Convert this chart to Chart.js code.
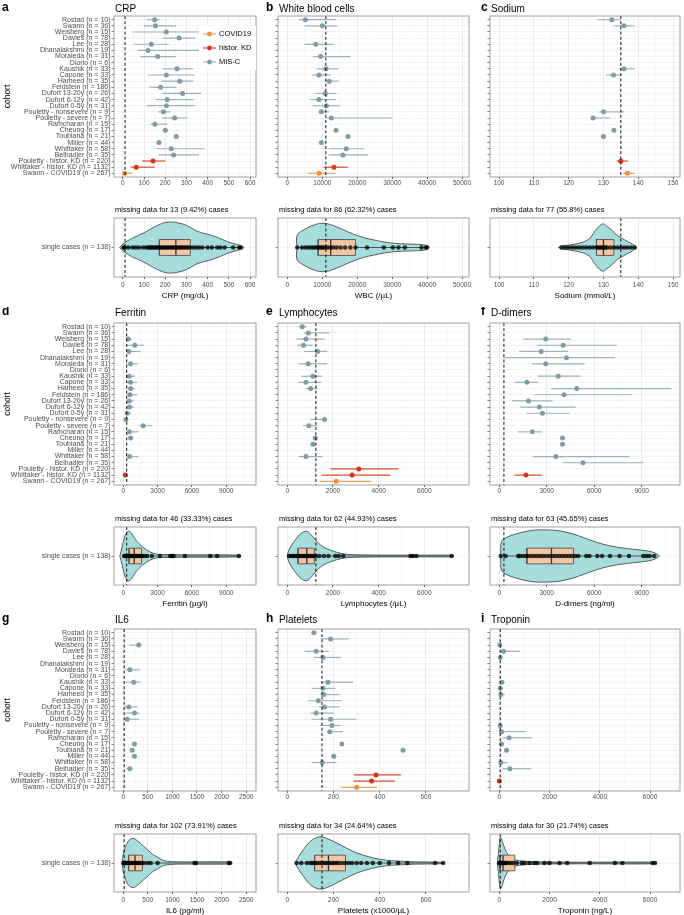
<!DOCTYPE html>
<html>
<head>
<meta charset="utf-8">
<script src="https://cdn.jsdelivr.net/npm/chart.js@4.4.0/dist/chart.umd.min.js"></script>
<style>
    body { margin: 0; background: #fff; width: 684px; height: 915px; position: relative; overflow: hidden; }
    canvas { position: absolute; }
</style>
</head>
<body>
<script>
// Cohorts, top to bottom
const cohorts = [
    'Rostad (n = 10)', 'Swann (n = 36)', 'Weisberg (n = 15)', 'Davies (n = 78)', 'Lee (n = 28)',
    'Dhanalakshmi (n = 19)', 'Moraleda (n = 31)', 'Diorio (n = 6)', 'Kaushik (n = 33)', 'Capone (n = 33)',
    'Hameed (n = 35)', 'Feldstein (n = 186)', 'Dufort 13-20y (n = 26)', 'Dufort 6-12y (n = 42)', 'Dufort 0-5y (n = 31)',
    'Pouletty - nonsevere (n = 9)', 'Pouletty - severe (n = 7)', 'Ramcharan (n = 15)', 'Cheung (n = 17)', 'Toubiana (n = 21)',
    'Miller (n = 44)', 'Whittaker (n = 58)', 'Belhadjer (n = 35)', 'Pouletty - histor. KD (n = 220)',
    'Whittaker - histor. KD (n = 1132)', 'Swann - COVID19 (n = 267)'
];
const groupNames = ['COVID19', 'histor. KD', 'MIS-C'];
const singleCasesLabel = 'single cases (n = 138)';

// CRP
const crpMid = [150, 153, 205, 265, 134, 118, 164, null, 255, 205, 268, 178, 282, 209, 205, 191, 244, 151, 200, 252, 170, 228, 239, 142, 63, 8];
const crpLo = [110, 98, 47, 189, 52, 71, 83, null, 186, 120, 183, 126, 186, 157, 110, 165, 184, 129, null, null, null, 157, 170, 91, 36, 0];
const crpHi = [176, 252, 362, 343, 217, 359, 249, null, 331, 339, 334, 252, 370, 335, 339, 224, 304, 209, null, null, null, 386, 359, 200, 150, 44];
const crpCases = [3, 8, 25, 45, 60, 75, 95, 110, 120, 128, 135, 142, 150, 158, 165, 172, 180, 188, 195, 205, 212, 220, 228, 236, 245, 252, 260, 268, 276, 285, 295, 305, 315, 330, 345, 360, 375, 400, 420, 445, 460, 480, 520, 548, 556];
const crpViolinX = [-15, 0, 40, 100, 150, 200, 250, 300, 350, 400, 450, 500, 540, 570];
const crpViolinW = [0, 0.12, 0.3, 0.5, 0.7, 0.85, 0.85, 0.75, 0.55, 0.45, 0.33, 0.18, 0.1, 0];
const crpBox = [172, 250, 318];

// White blood cells
const wbcMid = [5140, 10000, null, null, 8100, null, 9520, null, 11050, 9050, 12000, null, 10860, 9050, 11140, 9710, 12570, null, 13900, 17330, 9710, 16860, 15900, null, 13330, 9050];
const wbcLo = [3240, 4950, null, null, 4950, null, 7240, null, 8380, 7050, 10670, null, 8000, 6480, 7240, 9050, 11140, null, null, null, null, 11810, 11810, null, 10380, 5900];
const wbcHi = [14000, 14290, null, null, 13140, null, 18000, null, 14570, 12380, 14570, null, 14100, 13810, 14950, 12000, 30000, null, null, null, null, 21900, 23050, null, 17330, 13810];
const wbcCases = [2800, 4200, 5200, 6000, 6800, 7500, 8200, 8800, 9300, 9800, 10300, 10800, 11500, 12300, 13000, 14000, 15200, 16500, 18000, 19500, 22800, 27600, 30200, 31800, 33600, 38400, 39700, 40000];
const wbcViolinX = [2700, 2800, 5000, 8000, 10500, 13000, 16000, 19000, 22000, 25000, 28000, 31000, 34000, 37000, 39500, 40300];
const wbcViolinW = [0, 0.42, 0.62, 0.78, 0.82, 0.75, 0.6, 0.45, 0.33, 0.25, 0.18, 0.14, 0.12, 0.11, 0.08, 0];
const wbcBox = [8800, 12400, 19500];

// Sodium
const sodiumMid = [132.4, 135.9, null, null, null, null, null, null, 135.9, 132.9, null, null, null, null, null, 130, 127, null, 133, 130, null, null, null, 135, null, 136.9];
const sodiumLo = [128.3, 132.9, null, null, null, null, null, null, 134.5, 130.8, null, null, null, null, null, 128.8, 127, null, null, null, null, null, null, 133.8, null, 135.7];
const sodiumHi = [135, 139, null, null, null, null, null, null, 139, 135.2, null, null, null, null, null, 135.9, 131.9, null, null, null, null, null, null, 137, null, 139];
const sodiumCases = [118, 119, 120, 121, 122, 123, 124, 125, 126, 127, 128, 128.5, 129, 129.5, 130, 130.5, 131, 132, 133, 134, 135, 136, 137, 138, 139];
const sodiumViolinX = [117, 118, 120, 122, 124, 126, 127.5, 129, 130, 131, 132.5, 134, 135.5, 137, 138.5, 139.3];
const sodiumViolinW = [0, 0.05, 0.08, 0.12, 0.18, 0.3, 0.55, 0.75, 0.8, 0.72, 0.58, 0.4, 0.3, 0.2, 0.1, 0];
const sodiumBox = [128, 130, 133];

// Ferritin
const ferritinMid = [null, null, 435, 1015, 490, null, 640, null, 520, 640, 640, 580, 520, 550, 350, 230, 1740, 520, 640, null, null, 550, null, null, 175, null];
const ferritinLo = [null, null, 230, 290, 290, null, 290, null, 290, 290, 350, 290, 290, 320, 145, 90, 1390, 290, null, null, null, 290, null, null, 60, null];
const ferritinHi = [null, null, 725, 1800, 1500, null, 1250, null, 1015, 1220, 1015, 1220, 930, 930, 670, 380, 2550, 1300, null, null, null, 1300, null, null, 350, null];
const ferritinCases = [80, 150, 220, 300, 380, 450, 520, 600, 680, 760, 850, 950, 1050, 1150, 1250, 1400, 1550, 1700, 1900, 2100, 2500, 3200, 4100, 4250, 4400, 5400, 7600, 8200, 10100];
const ferritinViolinX = [-300, -100, 150, 400, 700, 1000, 1400, 1800, 2200, 2600, 3000, 4000, 6000, 8000, 10000, 10300];
const ferritinViolinW = [0, 0.3, 0.7, 0.85, 0.8, 0.6, 0.42, 0.28, 0.17, 0.1, 0.06, 0.05, 0.04, 0.04, 0.03, 0];
const ferritinBox = [500, 950, 1600];

// Lymphocytes
const lymphMid = [655, 917, 815, 713, 1325, null, 917, null, 1120, 815, 1019, null, null, null, null, 1630, 946, null, 1223, 1120, null, 815, null, 3130, 2838, 2140];
const lymphLo = [465, 728, 393, 437, 728, null, 495, null, 611, 495, 830, null, null, null, null, 1019, 684, null, null, null, null, 495, null, 1892, 1514, 1412];
const lymphHi = [830, 1850, 1630, 1120, 1747, null, 1747, null, 1528, 1455, 1310, null, null, null, null, 1747, 1296, null, null, null, null, 1528, null, 4862, 4498, 3668];
const lymphCases = [80, 150, 250, 320, 400, 480, 550, 620, 700, 760, 820, 880, 940, 1000, 1080, 1150, 1250, 1400, 1600, 1800, 2100, 2250, 2450, 5400, 5500, 5650, 7200];
const lymphViolinX = [0, 60, 300, 600, 850, 1100, 1350, 1600, 1900, 2200, 2600, 3200, 4500, 6000, 7200, 7300];
const lymphViolinW = [0, 0.2, 0.5, 0.78, 0.85, 0.68, 0.45, 0.3, 0.2, 0.12, 0.06, 0.04, 0.03, 0.03, 0.03, 0];
const lymphBox = [470, 850, 1180];

// D-dimers
const ddimerMid = [null, null, 2940, 4040, 2650, 4250, 2940, null, 3730, 1750, 4900, 4100, 1850, 2540, 2730, null, null, 2100, 4000, 4000, null, 3580, 5290, null, 1690, null];
const ddimerLo = [null, null, 1540, 2375, 1250, 350, 2080, null, 2440, 980, 3270, 2230, 830, 1350, 1710, null, null, 1190, null, null, null, 2125, 4040, null, 980, null];
const ddimerHi = [null, null, 4520, 7440, 4350, 7330, 5400, null, 5150, 2480, 10875, 8420, 3375, 4830, 4460, null, null, 2690, null, null, null, 8230, 9100, null, 2690, null];
const ddimerCases = [100, 400, 1200, 1300, 1500, 1700, 1800, 2000, 2200, 2400, 2600, 2800, 3000, 3200, 3400, 3600, 3800, 4000, 4200, 4400, 4600, 4800, 5000, 5500, 5700, 6200, 6500, 7000, 7600, 8200, 9100, 9300, 9500, 9800];
const ddimerViolinX = [100, 150, 500, 1000, 2000, 3000, 4000, 5000, 6000, 7000, 8000, 9000, 9600, 10000, 10100];
const ddimerViolinW = [0, 0.5, 0.65, 0.75, 0.88, 0.9, 0.85, 0.7, 0.5, 0.35, 0.26, 0.2, 0.15, 0.06, 0];
const ddimerBox = [1750, 3300, 4700];

// IL6
const il6Mid = [null, null, 316, null, null, null, 135, null, 215, null, null, null, 114, 229, 81, null, null, null, 229, 182, 229, null, 135, null, null, null];
const il6Lo = [null, null, 135, null, null, null, 47, null, 47, null, null, null, 27, 47, 27, null, null, null, null, null, null, null, 67, null, null, null];
const il6Hi = [null, null, 350, null, null, null, 337, null, 350, null, null, null, 296, 337, 323, null, null, null, null, null, null, null, 189, null, null, null];
const il6Cases = [5, 20, 45, 70, 95, 120, 145, 170, 195, 220, 245, 270, 300, 330, 370, 420, 500, 560, 700, 1450, 1480, 2150, 2170];
const il6ViolinX = [-20, 0, 100, 200, 300, 400, 500, 600, 700, 800, 900, 1100, 1500, 2000, 2200, 2220];
const il6ViolinW = [0, 0.3, 0.75, 0.85, 0.75, 0.6, 0.45, 0.3, 0.2, 0.1, 0.06, 0.04, 0.04, 0.04, 0.03, 0];
const il6Box = [110, 240, 390];

// Platelets
const plateletMid = [115, 187, null, 125, 154, null, null, null, 176, 154, 158, 134, 161, 125, 187, 193, 184, null, 236, 501, 201, 151, null, 384, 365, 300];
const plateletLo = [104, 147, null, 75, 115, null, null, null, 147, 106, 140, 89, 137, 99, 106, 140, 173, null, null, null, null, 106, null, 288, 286, 233];
const plateletHi = [125, 265, null, 180, 233, null, null, null, 285, 207, 226, 236, 226, 201, 299, 230, 240, null, null, null, null, 213, null, 492, 466, 388];
const plateletCases = [40, 60, 85, 100, 110, 120, 130, 140, 150, 160, 170, 180, 190, 200, 210, 220, 235, 250, 265, 280, 300, 320, 345, 370, 400, 440, 480, 520, 640, 675];
const plateletViolinX = [35, 40, 60, 100, 140, 180, 220, 260, 300, 350, 400, 450, 500, 550, 650, 680];
const plateletViolinW = [0, 0.1, 0.35, 0.75, 0.9, 0.82, 0.66, 0.5, 0.35, 0.22, 0.13, 0.08, 0.06, 0.04, 0.03, 0];
const plateletBox = [118, 178, 252];

// Troponin
const troponinMid = [null, null, 26, 170, 40, null, null, null, 105, 40, 66, null, null, null, null, 40, 92, 393, 92, 289, null, 66, 420, null, 0, null];
const troponinLo = [null, null, 5, 66, null, null, null, null, 40, null, 26, null, null, null, null, null, 26, 131, null, null, null, 26, 131, null, null, null];
const troponinHi = [null, null, 60, 826, null, null, null, null, 200, null, 223, null, null, null, null, null, 1050, 1285, null, null, null, 328, 1272, null, null, null];
const troponinCases = [5, 15, 25, 40, 60, 80, 100, 130, 170, 220, 280, 350, 450, 550, 700, 900, 1000, 1200, 1400, 1500, 1800, 2000, 2400, 2700, 3600, 4600, 4900, 6100, 6200];
const troponinViolinX = [-80, -30, 20, 60, 120, 200, 300, 450, 600, 800, 1000, 1500, 2500, 4000, 6000, 6250];
const troponinViolinW = [0, 0.35, 0.8, 0.88, 0.75, 0.55, 0.35, 0.2, 0.12, 0.08, 0.06, 0.04, 0.03, 0.03, 0.03, 0];
const troponinBox = [30, 150, 620];

// Panels in reading order (a..i)
const panels = [
    { letter: 'a', title: 'CRP', axisTitle: 'CRP (mg/dL)', mid: crpMid, lo: crpLo, hi: crpHi, ref: 10, min: -42, max: 628, step: 100,
      missing: 'missing data for 13 (9.42%) cases', cases: crpCases, vx: crpViolinX, vw: crpViolinW, box: crpBox },
    { letter: 'b', title: 'White blood cells', axisTitle: 'WBC (/µL)', mid: wbcMid, lo: wbcLo, hi: wbcHi, ref: 11000, min: -2700, max: 52000, step: 10000,
      missing: 'missing data for 86 (62.32%) cases', cases: wbcCases, vx: wbcViolinX, vw: wbcViolinW, box: wbcBox },
    { letter: 'c', title: 'Sodium', axisTitle: 'Sodium (mmol/L)', mid: sodiumMid, lo: sodiumLo, hi: sodiumHi, ref: 135, min: 97.4, max: 152, step: 10,
      missing: 'missing data for 77 (55.8%) cases', cases: sodiumCases, vx: sodiumViolinX, vw: sodiumViolinW, box: sodiumBox },
    { letter: 'd', title: 'Ferritin', axisTitle: 'Ferritin (µg/l)', mid: ferritinMid, lo: ferritinLo, hi: ferritinHi, ref: 300, min: -810, max: 11600, step: 3000,
      missing: 'missing data for 46 (33.33%) cases', cases: ferritinCases, vx: ferritinViolinX, vw: ferritinViolinW, box: ferritinBox },
    { letter: 'e', title: 'Lymphocytes', axisTitle: 'Lymphocytes (/µL)', mid: lymphMid, lo: lymphLo, hi: lymphHi, ref: 1250, min: -410, max: 7960, step: 2000,
      missing: 'missing data for 62 (44.93%) cases', cases: lymphCases, vx: lymphViolinX, vw: lymphViolinW, box: lymphBox },
    { letter: 'f', title: 'D-dimers', axisTitle: 'D-dimers (ng/ml)', mid: ddimerMid, lo: ddimerLo, hi: ddimerHi, ref: 300, min: -580, max: 11420, step: 3000,
      missing: 'missing data for 63 (45.65%) cases', cases: ddimerCases, vx: ddimerViolinX, vw: ddimerViolinW, box: ddimerBox },
    { letter: 'g', title: 'IL6', axisTitle: 'IL6 (pg/ml)', mid: il6Mid, lo: il6Lo, hi: il6Hi, ref: 20, min: -187, max: 2700, step: 500,
      missing: 'missing data for 102 (73.91%) cases', cases: il6Cases, vx: il6ViolinX, vw: il6ViolinW, box: il6Box },
    { letter: 'h', title: 'Platelets', axisTitle: 'Platelets (x1000/µL)', mid: plateletMid, lo: plateletLo, hi: plateletHi, ref: 150, min: -40.6, max: 787, step: 200,
      missing: 'missing data for 34 (24.64%) cases', cases: plateletCases, vx: plateletViolinX, vw: plateletViolinW, box: plateletBox },
    { letter: 'i', title: 'Troponin', axisTitle: 'Troponin (ng/L)', mid: troponinMid, lo: troponinLo, hi: troponinHi, ref: 40, min: -368, max: 7190, step: 2000,
      missing: 'missing data for 30 (21.74%) cases', cases: troponinCases, vx: troponinViolinX, vw: troponinViolinW, box: troponinBox }
];

// Layout
const FONT = '"Liberation Sans", Arial, sans-serif';
const colGeom = [
    { left: 0, width: 260, yw: 114, right: 3, letterX: 2 },
    { left: 262, width: 211, yw: 16, right: 3, letterX: 266 },
    { left: 474, width: 210, yw: 16, right: 2, letterX: 481 }
];
const rowGeom = [
    { top: 16, bottom: 177, vtop: 218, vbottom: 277, titleY: 9 },
    { top: 323, bottom: 485, vtop: 527, vbottom: 585, titleY: 313 },
    { top: 629, bottom: 791, vtop: 834, vbottom: 892, titleY: 620 }
];
const pointColors = ['#f08c3a', '#d8361c', '#7f9ca6'];
const barColors = ['rgba(240,140,58,0.8)', 'rgba(216,54,28,0.9)', 'rgba(127,156,166,0.75)'];
const BOX_HALF = 0.27;

Chart.defaults.font.family = FONT;
Chart.defaults.animation = false;
Chart.defaults.plugins.legend.display = false;
Chart.defaults.plugins.tooltip.enabled = false;

function groupOf(label) {
    if (label.includes('COVID19')) return 0;
    if (label.includes('histor. KD')) return 1;
    return 2;
}

function isMajor(v, step) {
    return Math.abs(v / step - Math.round(v / step)) < 1e-6;
}

function makeCanvas(left, top, width, height) {
    const c = document.createElement('canvas');
    c.width = width;
    c.height = height;
    c.style.left = left + 'px';
    c.style.top = top + 'px';
    c.style.width = width + 'px';
    c.style.height = height + 'px';
    document.body.appendChild(c);
    return c;
}

// Titles, reference line, panel border and legend
const panelDeco = {
    id: 'panelDeco',
    afterDatasetsDraw(chart, args, o) {
        const { ctx, chartArea: a, scales: { x } } = chart;
        if (o.ref == null) return;
        const px = x.getPixelForValue(o.ref);
        ctx.save();
        ctx.strokeStyle = '#111';
        ctx.lineWidth = 1;
        ctx.setLineDash([3, 2.2]);
        ctx.beginPath();
        ctx.moveTo(px, a.top);
        ctx.lineTo(px, a.bottom);
        ctx.stroke();
        ctx.restore();
    },
    afterDraw(chart, args, o) {
        const { ctx, chartArea: a } = chart;
        ctx.save();
        ctx.strokeStyle = '#8a8a8a';
        ctx.lineWidth = 0.8;
        ctx.strokeRect(a.left, a.top, a.right - a.left, a.bottom - a.top);

        ctx.fillStyle = '#000';
        ctx.textBaseline = 'middle';
        ctx.textAlign = 'left';
        ctx.font = o.titleSize + 'px ' + FONT;
        ctx.fillText(o.title, a.left + 1, o.titleY - o.canvasTop);
        if (o.letter) {
            ctx.font = 'bold 12px ' + FONT;
            ctx.fillText(o.letter, o.letterX - o.canvasLeft, o.titleY - o.canvasTop - 1);
        }

        if (o.legend) {
            ctx.fillStyle = '#fff';
            ctx.fillRect(199, 26, 57, 44);
            groupNames.forEach((g, k) => {
                const y = 34 + 14 * k;
                ctx.strokeStyle = barColors[k];
                ctx.lineWidth = 1.2;
                ctx.beginPath();
                ctx.moveTo(203, y);
                ctx.lineTo(216, y);
                ctx.stroke();
                ctx.fillStyle = pointColors[k];
                ctx.beginPath();
                ctx.arc(209.5, y, 2.4, 0, Math.PI * 2);
                ctx.fill();
                ctx.fillStyle = '#000';
                ctx.font = '7.5px ' + FONT;
                ctx.fillText(g, 219, y);
            });
        }
        ctx.restore();
    }
};

function xAxis(p, height, tickPad, withTitle) {
    const half = p.step / 2;
    return {
        type: 'linear',
        min: p.min,
        max: p.max,
        afterBuildTicks: s => {
            const ticks = [];
            for (let k = Math.ceil(p.min / half); k * half <= p.max; k++) ticks.push({ value: k * half });
            s.ticks = ticks;
        },
        afterFit: s => { s.height = height; s.paddingLeft = 0; s.paddingRight = 0; },
        ticks: {
            autoSkip: false,
            maxRotation: 0,
            padding: tickPad,
            color: '#4d4d4d',
            font: { size: 6.5 },
            callback: v => isMajor(v, p.step) ? String(v) : ''
        },
        grid: {
            color: c => (c.tick && isMajor(c.tick.value, p.step)) ? '#e6e6e6' : '#f3f3f3',
            lineWidth: c => (c.tick && isMajor(c.tick.value, p.step)) ? 0.8 : 0.5,
            tickLength: 2,
            tickColor: c => (c.tick && isMajor(c.tick.value, p.step)) ? '#333' : 'rgba(0,0,0,0)'
        },
        border: { display: false },
        title: withTitle
            ? { display: true, text: p.axisTitle, color: '#000', font: { size: 8 }, padding: { top: 0, bottom: 0 } }
            : { display: false }
    };
}

// Forest plot of the cohort summaries
function forestChart(p, r, c) {
    const col = colGeom[c], row = rowGeom[r];
    const top = row.top - 16;
    const height = row.bottom - row.top + 16 + 14;
    const canvas = makeCanvas(col.left, top, col.width, height);

    const datasets = [];
    const pts = [[], [], []];
    p.mid.forEach((m, i) => {
        if (m == null) return;
        const g = groupOf(cohorts[i]);
        pts[g].push({ x: m, y: i });
        if (p.lo[i] != null) {
            datasets.push({
                data: [{ x: p.lo[i], y: i }, { x: p.hi[i], y: i }],
                showLine: true, borderColor: barColors[g], borderWidth: 1.2, pointRadius: 0, order: 2
            });
        }
    });
    pts.forEach((d, g) => datasets.push({
        data: d, pointRadius: 2.5, pointBackgroundColor: pointColors[g], pointBorderWidth: 0, order: 1
    }));

    new Chart(canvas, {
        type: 'scatter',
        data: { datasets },
        plugins: [panelDeco],
        options: {
            responsive: false,
            devicePixelRatio: 1,
            layout: { padding: { top: 16, right: col.right, left: 0, bottom: 0 } },
            scales: {
                x: xAxis(p, 14, 0, false),
                y: {
                    type: 'linear',
                    reverse: true,
                    min: -0.6,
                    max: cohorts.length - 0.4,
                    afterBuildTicks: s => { s.ticks = cohorts.map((name, i) => ({ value: i })); },
                    afterFit: s => { s.width = col.yw; s.paddingTop = 0; s.paddingBottom = 0; },
                    ticks: {
                        autoSkip: false,
                        padding: 1,
                        color: '#4d4d4d',
                        font: { size: 7 },
                        callback: v => c === 0 ? cohorts[v] : ''
                    },
                    grid: { color: '#ececec', lineWidth: 0.6, tickLength: 2.5, tickColor: '#333' },
                    border: { display: false },
                    title: c === 0
                        ? { display: true, text: 'cohort', color: '#000', font: { size: 8.5 }, padding: { top: 3, bottom: 0 } }
                        : { display: false }
                }
            },
            plugins: {
                panelDeco: {
                    title: p.title, titleSize: 10, titleY: row.titleY, canvasTop: top, canvasLeft: col.left,
                    letter: p.letter, letterX: col.letterX, ref: p.ref, legend: r === 0 && c === 0
                }
            }
        }
    });
}

// Violin + box of the single cases
function violinChart(p, r, c) {
    const col = colGeom[c], row = rowGeom[r];
    const top = row.vtop - 16;
    const height = row.vbottom - row.vtop + 16 + 24;
    const canvas = makeCanvas(col.left, top, col.width, height);

    const n = p.vx.length;
    const outline = p.vx.map((x, k) => ({ x, y: p.vw[k] }));
    for (let k = n - 2; k >= 0; k--) outline.push({ x: p.vx[k], y: -p.vw[k] });

    const [q1, med, q3] = p.box;
    const lo = Math.min(...p.cases), hi = Math.max(...p.cases);

    const datasets = [
        { data: outline, showLine: true, fill: 'shape', backgroundColor: '#a7dcdc', borderColor: '#3a3a3a',
          borderWidth: 0.8, tension: 0.35, pointRadius: 0, order: 5 },
        { data: [{ x: lo, y: 0 }, { x: hi, y: 0 }], showLine: true, borderColor: '#333', borderWidth: 0.8, pointRadius: 0, order: 4 },
        { data: [{ x: q1, y: -BOX_HALF }, { x: q3, y: -BOX_HALF }, { x: q3, y: BOX_HALF }, { x: q1, y: BOX_HALF }, { x: q1, y: -BOX_HALF }],
          showLine: true, fill: 'shape', backgroundColor: 'rgba(244,196,160,0.95)', borderColor: '#555', borderWidth: 0.9, pointRadius: 0, order: 3 },
        { data: [{ x: med, y: -BOX_HALF }, { x: med, y: BOX_HALF }], showLine: true, borderColor: '#333', borderWidth: 1.3, pointRadius: 0, order: 2 },
        { data: p.cases.map(v => ({ x: v, y: 0 })), pointRadius: 2.3, pointBackgroundColor: 'rgba(0,0,0,0.75)', pointBorderWidth: 0, order: 1 }
    ];

    new Chart(canvas, {
        type: 'scatter',
        data: { datasets },
        plugins: [panelDeco],
        options: {
            responsive: false,
            devicePixelRatio: 1,
            layout: { padding: { top: 16, right: col.right, left: 0, bottom: 0 } },
            scales: {
                x: xAxis(p, 24, 2, true),
                y: {
                    type: 'linear',
                    min: -1,
                    max: 1,
                    afterBuildTicks: s => { s.ticks = [{ value: 0 }]; },
                    afterFit: s => { s.width = col.yw; s.paddingTop = 0; s.paddingBottom = 0; },
                    ticks: {
                        autoSkip: false,
                        padding: 1,
                        color: '#4d4d4d',
                        font: { size: 7 },
                        callback: () => c === 0 ? singleCasesLabel : ''
                    },
                    grid: { color: '#ececec', lineWidth: 0.6, tickLength: 2.5, tickColor: '#333' },
                    border: { display: false }
                }
            },
            plugins: {
                panelDeco: {
                    title: p.missing, titleSize: 7.5, titleY: row.vtop - 8, canvasTop: top, canvasLeft: col.left,
                    letter: null, ref: p.ref, legend: false
                }
            }
        }
    });
}

panels.forEach((p, k) => {
    const r = Math.floor(k / 3), c = k % 3;
    forestChart(p, r, c);
    violinChart(p, r, c);
});
</script>
</body>
</html>
